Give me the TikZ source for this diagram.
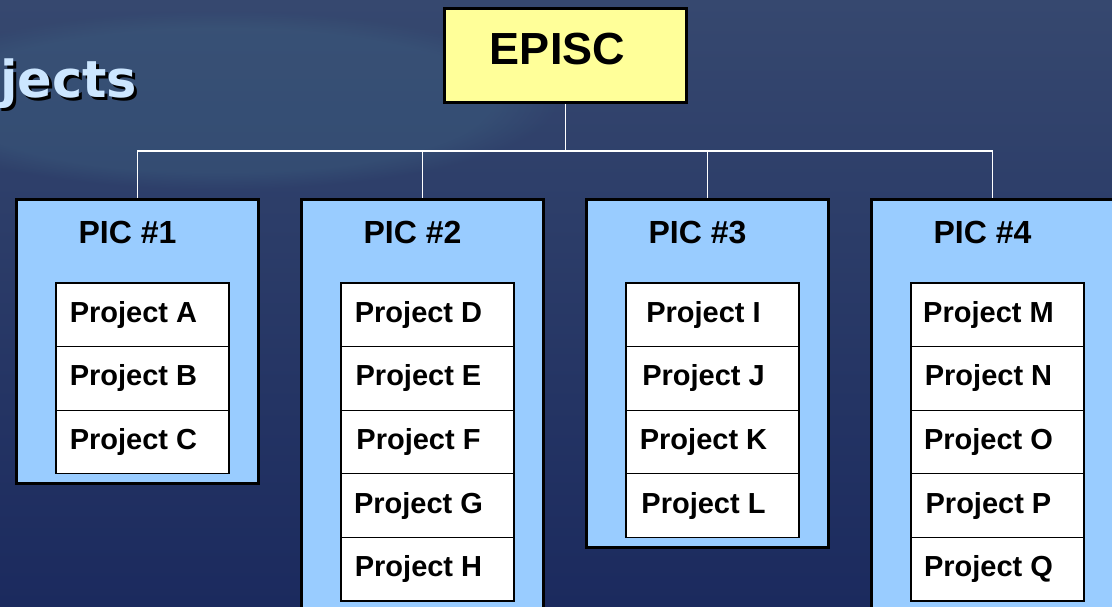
\documentclass[tikz,border=0pt]{standalone}
\usepackage{fontspec}
\setmainfont{Liberation Sans}
\newfontfamily\headfont{DejaVu Sans}
\usetikzlibrary{positioning,fadings}
\definecolor{bgtop}{HTML}{36486F}
\definecolor{bgbot}{HTML}{1B2A5E}
\definecolor{glow}{HTML}{3D6080}
\definecolor{picblue}{HTML}{99CCFF}
\definecolor{epiyellow}{HTML}{FFFF99}
\definecolor{headblue}{HTML}{CCE6FF}

\begin{document}
\begin{tikzpicture}[x=1pt,y=-1pt,
	boss/.style={draw=black,line width=3pt,fill=epiyellow,minimum width=242pt,minimum height=94pt},
	picbox/.style={draw=black,line width=3pt,fill=picblue,minimum width=242pt,anchor=north west},
	pictitle/.style={anchor=base,font=\fontsize{32}{36}\selectfont\bfseries},
	proj/.style={draw=black,line width=1.2pt,fill=white,outer sep=0pt,minimum width=173pt,minimum height=63.6pt,
		font=\fontsize{29}{34}\selectfont\bfseries,execute at end node={\hspace{18pt}}},
	bus/.style={draw=white,line width=1.5pt}]
	\useasboundingbox (0,0) rectangle (1112,606);
	% backdrop
	\fill[top color=bgtop,bottom color=bgbot] (0,0) rectangle (1112,606);
	\fill[glow,opacity=.4,path fading=circle with fuzzy edge 20 percent] (220,100) ellipse (340 and 90);
	\node (hd) [anchor=base west,inner sep=0pt,text=headblue,font=\headfont\fontsize{51}{60}\selectfont\bfseries] at (0,97)
		{\makebox[0pt][l]{\hspace{3pt}\raisebox{-3pt}{\color{black}jects}}jects};
	% top
	\node (episc) [boss] at (565.5,55.5) {};
	\node (epl) [anchor=base,font=\fontsize{45}{50}\selectfont\bfseries] at ([xshift=-8pt,yshift=-8.5pt]episc.center) {EPISC};
	% the four PIC boxes
	\node (pic1) [picbox,minimum height=284pt] at (15,198) {};
	\node (pic2) [picbox,minimum height=450pt] at (300,198) {};
	\node (pic3) [picbox,minimum height=348pt] at (585,198) {};
	\node (pic4) [picbox,minimum height=450pt] at (870,198) {};
	\node (t1) [pictitle] at ([xshift=-10pt,yshift=-45pt]pic1.north) {PIC \#1};
	\node (t2) [pictitle] at ([xshift=-10pt,yshift=-45pt]pic2.north) {PIC \#2};
	\node (t3) [pictitle] at ([xshift=-10pt,yshift=-45pt]pic3.north) {PIC \#3};
	\node (t4) [pictitle] at ([xshift=-10pt,yshift=-45pt]pic4.north) {PIC \#4};
	% lines
	\coordinate (hub) at (565.5,151);
	\draw[bus] (episc.south) -- (hub);
	\draw[bus] (hub) -| (pic1.north);
	\draw[bus] (hub) -| (pic2.north);
	\draw[bus] (hub) -| (pic3.north);
	\draw[bus] (hub) -| (pic4.north);
	% projects
	\node (pa) [proj,below right=85pt and 41pt of pic1.north west] {Project A};
	\node (pb) [proj,below=0pt of pa] {Project B};
	\node (pc) [proj,below=0pt of pb] {Project C};
	\node (pd) [proj,below right=85pt and 41pt of pic2.north west] {Project D};
	\node (pe) [proj,below=0pt of pd] {Project E};
	\node (pf) [proj,below=0pt of pe] {Project F};
	\node (pg) [proj,below=0pt of pf] {Project G};
	\node (ph) [proj,below=0pt of pg] {Project H};
	\node (pi) [proj,below right=85pt and 41pt of pic3.north west] {Project I};
	\node (pj) [proj,below=0pt of pi] {Project J};
	\node (pk) [proj,below=0pt of pj] {Project K};
	\node (pl) [proj,below=0pt of pk] {Project L};
	\node (pm) [proj,below right=85pt and 41pt of pic4.north west] {Project M};
	\node (pn) [proj,below=0pt of pm] {Project N};
	\node (po) [proj,below=0pt of pn] {Project O};
	\node (pp) [proj,below=0pt of po] {Project P};
	\node (pq) [proj,below=0pt of pp] {Project Q};
\end{tikzpicture}
\end{document}
